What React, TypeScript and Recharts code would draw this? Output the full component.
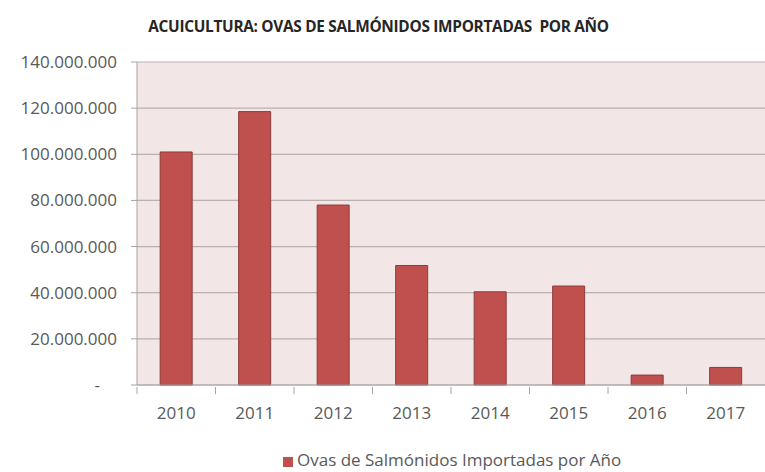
import {
  BarChart,
  Bar,
  XAxis,
  YAxis,
  CartesianGrid,
  Legend,
} from "recharts";

const years = ["2010", "2011", "2012", "2013", "2014", "2015", "2016", "2017"];
const ovas = [101000000, 118500000, 78000000, 51800000, 40400000, 42900000, 4300000, 7600000];
const yTicks = [0, 20000000, 40000000, 60000000, 80000000, 100000000, 120000000, 140000000];

const SERIES = "Ovas de Salmónidos Importadas por Año";
const FONT = "'Open Sans', sans-serif";
const TEXT = "#595959";

const data = years.map((y, i) => ({ year: y, value: ovas[i] }));

// formato chileno: puntos como separador de miles, el cero como guion
const fmt = (v: number) =>
  v === 0 ? "-" : String(v).replace(/\B(?=(\d{3})+(?!\d))/g, ".");

const YTick = (props: any) => {
  const { x, y, payload } = props;
  const v = payload.value as number;
  return (
    <text
      x={v === 0 ? x - 17 : x}
      y={y}
      dy={6}
      textAnchor="end"
      fill={TEXT}
      fontSize={17}
      fontFamily={FONT}
    >
      {fmt(v)}
    </text>
  );
};

const XTick = (props: any) => {
  const { x, y, payload } = props;
  const off = payload.offset ?? 0;
  return (
    <g>
      <line x1={x - off} y1={y} x2={x - off} y2={y + 7} stroke="#aaa2a2" />
      <text x={x} y={y + 32} textAnchor="middle" fill={TEXT} fontSize={17} fontFamily={FONT}>
        {payload.value}
      </text>
    </g>
  );
};

export default function App() {
  return (
    <div style={{ position: "absolute", left: 0, top: 0, width: 765, height: 472, background: "#fff", overflow: "hidden" }}>
      <div
        style={{
          position: "absolute",
          top: 16,
          left: 0,
          width: 765,
          textAlign: "center",
          fontFamily: FONT,
          fontWeight: 700,
          fontSize: 15.4,
          color: "#262626",
          letterSpacing: -0.3,
          whiteSpace: "pre",
          transform: "translateX(-4px)",
        }}
      >
        {"ACUICULTURA: OVAS DE SALMÓNIDOS IMPORTADAS  POR AÑO"}
      </div>
      <BarChart
        width={765}
        height={472}
        data={data}
        margin={{ top: 62, right: 0, left: 0, bottom: 15 }}
        barCategoryGap="29.5%"
      >
        <CartesianGrid vertical={false} stroke="#b9b0b0" fill="#f2e6e6" strokeWidth={1.2} />
        <XAxis
          dataKey="year"
          height={50}
          tickLine={false}
          tickSize={0}
          tick={<XTick />}
          axisLine={{ stroke: "#aaa2a2" }}
        />
        <YAxis
          width={137}
          domain={[0, 140000000]}
          ticks={yTicks}
          tickSize={6}
          tickMargin={14}
          tick={<YTick />}
          tickLine={{ stroke: "#aaa2a2" }}
          axisLine={{ stroke: "#aaa2a2" }}
        />
        <Legend
          height={22}
          iconType="square"
          iconSize={10}
          wrapperStyle={{ left: 283, top: 449, width: "auto", height: 22, lineHeight: "22px" }}
          formatter={(value) => (
            <span style={{ color: TEXT, fontFamily: FONT, fontSize: 17 }}>{value}</span>
          )}
        />
        <Bar
          dataKey="value"
          name={SERIES}
          fill="#c0504d"
          stroke="#8e3b39"
          strokeWidth={1}
          isAnimationActive={false}
        />
      </BarChart>
    </div>
  );
}
